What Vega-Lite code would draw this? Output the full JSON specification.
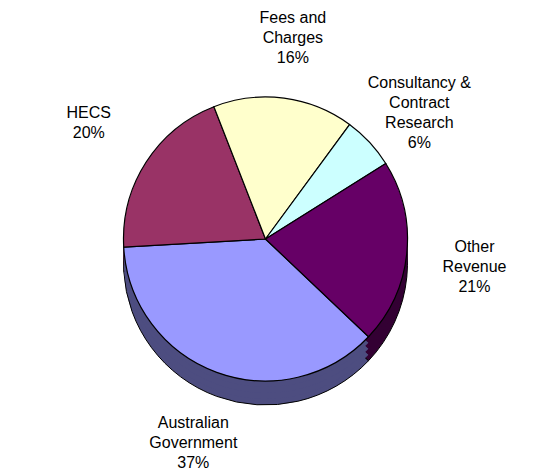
{
  "$schema": "https://vega.github.io/schema/vega-lite/v6.json",
  "autosize": {"type": "fit", "contains": "padding"},
  "width": 555,
  "height": 472,
  "padding": 0,
  "background": "white",
  "config": {"view": {"stroke": null}},
  "data": {
    "values": [
      {"category": "Australian Government", "value": 37, "ord": 1, "label": "Australian\nGovernment\n37%"},
      {"category": "HECS", "value": 20, "ord": 2, "label": "HECS\n20%"},
      {"category": "Fees and Charges", "value": 16, "ord": 3, "label": "Fees and\nCharges\n16%"},
      {"category": "Consultancy & Contract Research", "value": 6, "ord": 4, "label": "Consultancy &\nContract\nResearch\n6%"},
      {"category": "Other Revenue", "value": 21, "ord": 5, "label": "Other\nRevenue\n21%"}
    ]
  },
  "encoding": {
    "theta": {"field": "value", "type": "quantitative", "stack": true, "scale": {"range": [2.33, 8.613]}},
    "order": {"field": "ord", "type": "quantitative"}
  },
  "layer": [
    {
      "mark": {"type": "arc", "radius": 142, "xOffset": -12, "yOffset": 27, "stroke": "black", "strokeWidth": 1},
      "encoding": {"color": {"field": "category", "type": "nominal", "legend": null,
        "scale": {"domain": ["Australian Government", "HECS", "Fees and Charges", "Consultancy & Contract Research", "Other Revenue"],
                  "range": ["#4d4d80", "#4d1a33", "#808066", "#668080", "#330033"]}}}
    },
    {
      "mark": {"type": "arc", "radius": 142, "xOffset": -12, "yOffset": 21, "strokeWidth": 0},
      "encoding": {"color": {"field": "category", "type": "nominal", "legend": null,
        "scale": {"domain": ["Australian Government", "HECS", "Fees and Charges", "Consultancy & Contract Research", "Other Revenue"],
                  "range": ["#4d4d80", "#4d1a33", "#808066", "#668080", "#330033"]}}}
    },
    {
      "mark": {"type": "arc", "radius": 142, "xOffset": -12, "yOffset": 15, "strokeWidth": 0},
      "encoding": {"color": {"field": "category", "type": "nominal", "legend": null,
        "scale": {"domain": ["Australian Government", "HECS", "Fees and Charges", "Consultancy & Contract Research", "Other Revenue"],
                  "range": ["#4d4d80", "#4d1a33", "#808066", "#668080", "#330033"]}}}
    },
    {
      "mark": {"type": "arc", "radius": 142, "xOffset": -12, "yOffset": 9, "strokeWidth": 0},
      "encoding": {"color": {"field": "category", "type": "nominal", "legend": null,
        "scale": {"domain": ["Australian Government", "HECS", "Fees and Charges", "Consultancy & Contract Research", "Other Revenue"],
                  "range": ["#4d4d80", "#4d1a33", "#808066", "#668080", "#330033"]}}}
    },
    {
      "mark": {"type": "arc", "radius": 142, "xOffset": -12, "yOffset": 3, "stroke": "black", "strokeWidth": 1.2},
      "encoding": {"color": {"field": "category", "type": "nominal", "legend": null,
        "scale": {"domain": ["Australian Government", "HECS", "Fees and Charges", "Consultancy & Contract Research", "Other Revenue"],
                  "range": ["#9999ff", "#993366", "#ffffcc", "#ccffff", "#660066"]}}}
    },
    {
      "mark": {"type": "text", "radius": 210, "xOffset": -12, "yOffset": -10, "font": "Liberation Sans", "fontSize": 16, "lineHeight": 20, "lineBreak": "\n", "color": "black", "align": "center", "baseline": "middle"},
      "encoding": {"text": {"field": "label", "type": "nominal"}}
    }
  ],
  "resolve": {"scale": {"color": "independent"}}
}
